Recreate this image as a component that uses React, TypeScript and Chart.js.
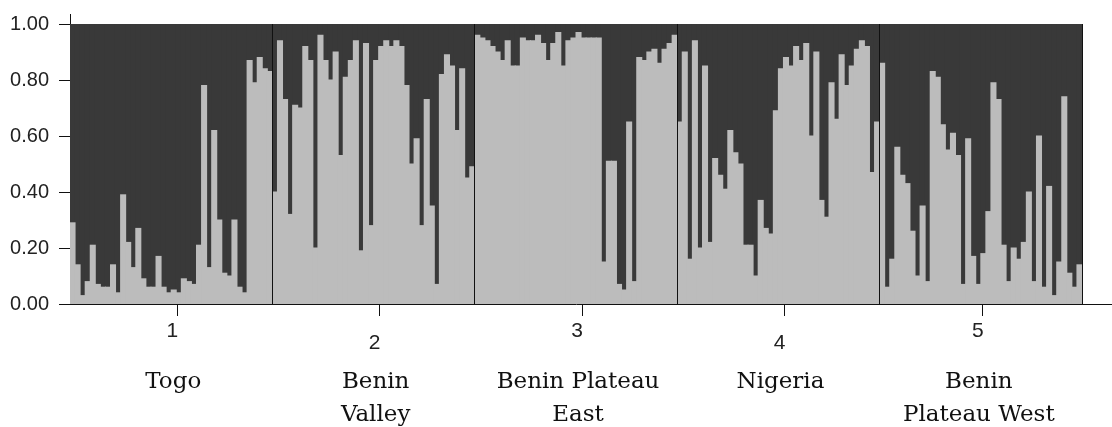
import React, { useEffect, useRef, useState } from 'react';
import { Chart, registerables } from 'chart.js';

Chart.register(...registerables);

// ---------------- data ----------------
const populationNames: string[][] = [
  ['Togo'],
  ['Benin', 'Valley'],
  ['Benin Plateau', 'East'],
  ['Nigeria'],
  ['Benin', 'Plateau West'],
];
const clusterLabels = ['1', '2', '3', '4', '5'];
const yTickValues = [0, 0.2, 0.4, 0.6, 0.8, 1.0];

// membership in the light-grey cluster, one value per individual
const togo = [
  0.29, 0.14, 0.03, 0.08, 0.21, 0.07, 0.06, 0.06, 0.14, 0.04,
  0.39, 0.22, 0.13, 0.27, 0.09, 0.06, 0.06, 0.17, 0.06, 0.04,
  0.05, 0.04, 0.09, 0.08, 0.07, 0.21, 0.78, 0.13, 0.62, 0.30,
  0.11, 0.10, 0.30, 0.06, 0.04, 0.87, 0.79, 0.88, 0.84, 0.83,
];
const beninValley = [
  0.40, 0.94, 0.73, 0.32, 0.71, 0.70, 0.92, 0.87, 0.20, 0.96,
  0.87, 0.80, 0.90, 0.53, 0.81, 0.87, 0.94, 0.19, 0.93, 0.28,
  0.87, 0.92, 0.94, 0.92, 0.94, 0.92, 0.78, 0.50, 0.59, 0.28,
  0.73, 0.35, 0.07, 0.82, 0.89, 0.85, 0.62, 0.84, 0.45, 0.49,
];
const beninPlateauEast = [
  0.96, 0.95, 0.94, 0.92, 0.90, 0.87, 0.94, 0.85, 0.85, 0.95,
  0.94, 0.94, 0.96, 0.93, 0.87, 0.93, 0.97, 0.85, 0.94, 0.95,
  0.97, 0.95, 0.95, 0.95, 0.95, 0.15, 0.51, 0.51, 0.07, 0.05,
  0.65, 0.08, 0.88, 0.87, 0.90, 0.91, 0.86, 0.91, 0.93, 0.96,
];
const nigeria = [
  0.65, 0.90, 0.16, 0.94, 0.20, 0.85, 0.22, 0.52, 0.46, 0.41,
  0.62, 0.54, 0.50, 0.21, 0.21, 0.10, 0.37, 0.27, 0.25, 0.69,
  0.84, 0.88, 0.85, 0.92, 0.87, 0.93, 0.60, 0.90, 0.37, 0.31,
  0.79, 0.66, 0.89, 0.78, 0.85, 0.91, 0.94, 0.92, 0.47, 0.65,
];
const beninPlateauWest = [
  0.86, 0.06, 0.16, 0.56, 0.46, 0.43, 0.26, 0.10, 0.35, 0.08,
  0.83, 0.81, 0.64, 0.55, 0.61, 0.53, 0.07, 0.59, 0.17, 0.07,
  0.18, 0.33, 0.79, 0.73, 0.21, 0.08, 0.20, 0.16, 0.22, 0.40,
  0.08, 0.60, 0.06, 0.42, 0.03, 0.15, 0.74, 0.11, 0.06, 0.14,
];

const populations = [togo, beninValley, beninPlateauEast, nigeria, beninPlateauWest];
const lightCluster: number[] = populations.flat();
const darkCluster: number[] = lightCluster.map((v) => +(1 - v).toFixed(3));
const individuals: string[] = populations.flatMap((p, pi) => p.map((_, i) => `${pi + 1}-${i + 1}`));

// ---------------- layout ----------------
const W = 1112;
const H = 427;
const popTickPositions = [0.53, 1.53, 2.53, 3.53, 4.51];
const barClip = { left: 0, right: 0, bottom: 0, top: -10 };

const boundaryPlugin = {
  id: 'boundaries',
  afterDatasetsDraw(chart: any) {
    const { ctx, chartArea, scales } = chart;
    const x = scales.x;
    const y = scales.y;
    const perPop = togo.length;
    const yTop = y.getPixelForValue(1);
    ctx.save();
    ctx.strokeStyle = '#111';
    ctx.lineWidth = 1;
    for (let k = 1; k <= populations.length; k++) {
      const px = k === populations.length ? chartArea.right : x.getPixelForValue(k * perPop - 0.5);
      const ax = Math.round(px - 0.5) + 0.5;
      ctx.beginPath();
      ctx.moveTo(ax, yTop);
      ctx.lineTo(ax, chartArea.bottom);
      ctx.stroke();
    }
    ctx.restore();
  },
  afterDraw(chart: any) {
    const { ctx, chartArea, width } = chart;
    const ay = Math.round(chartArea.bottom - 0.5) + 0.5;
    ctx.save();
    ctx.strokeStyle = '#111';
    ctx.lineWidth = 1;
    ctx.beginPath();
    ctx.moveTo(chartArea.right - 1, ay);
    ctx.lineTo(width, ay);
    ctx.stroke();
    ctx.restore();
  },
};

export default function App() {
  const canvasRef = useRef<HTMLCanvasElement | null>(null);
  const [centers, setCenters] = useState<number[]>([]);

  useEffect(() => {
    if (!canvasRef.current) return;
    const chart = new Chart(canvasRef.current, {
      type: 'bar',
      data: {
        labels: individuals,
        datasets: [
          {
            label: 'Cluster 1',
            data: lightCluster,
            backgroundColor: '#bcbcbc',
            borderWidth: 0,
            barPercentage: 1,
            categoryPercentage: 1,
            inflateAmount: 0.5,
            clip: barClip,
            xAxisID: 'x',
            yAxisID: 'y',
          },
          {
            label: 'Cluster 2',
            data: darkCluster,
            backgroundColor: '#393939',
            borderWidth: 0,
            barPercentage: 1,
            categoryPercentage: 1,
            inflateAmount: 0.6,
            clip: barClip,
            xAxisID: 'x',
            yAxisID: 'y',
          },
        ],
      },
      options: {
        responsive: false,
        animation: false,
        devicePixelRatio: 1,
        layout: { padding: { top: 14, right: 30, left: 0, bottom: 0 } },
        plugins: { legend: { display: false }, tooltip: { enabled: false } },
        scales: {
          x: {
            type: 'category',
            stacked: true,
            display: false,
          },
          pop: {
            type: 'linear',
            position: 'bottom',
            min: 0,
            max: 5,
            offset: false,
            afterBuildTicks: (scale: any) => {
              scale.ticks = popTickPositions.map((v) => ({ value: v }));
            },
            afterFit: (scale: any) => {
              scale.height = H - 304;
              scale.paddingLeft = 0;
              scale.paddingRight = 0;
            },
            grid: {
              display: true,
              offset: false,
              drawOnChartArea: false,
              drawTicks: true,
              tickLength: 12,
              color: '#111',
              lineWidth: 1,
            },
            border: { display: true, color: '#111', width: 1 },
            ticks: {
              autoSkip: false,
              maxRotation: 0,
              padding: 9,
              labelOffset: -5,
              color: '#222',
              font: { family: "'Liberation Sans', Arial, sans-serif", size: 21, lineHeight: '12px' },
              callback: (_v: any, i: number) => (i % 2 === 1 ? ['', clusterLabels[i]] : clusterLabels[i]),
            },
          },
          y: {
            type: 'linear',
            stacked: true,
            min: 0,
            max: 290 / 280,
            afterBuildTicks: (scale: any) => {
              scale.ticks = yTickValues.map((v) => ({ value: v }));
            },
            afterFit: (scale: any) => {
              scale.width = 70;
              scale.paddingTop = 0;
              scale.paddingBottom = 0;
            },
            grid: {
              display: true,
              drawOnChartArea: false,
              tickLength: 11,
              color: '#111',
            },
            border: { display: true, color: '#111', width: 1 },
            ticks: {
              padding: 10,
              color: '#222',
              font: { family: "'Liberation Sans', Arial, sans-serif", size: 20 },
              callback: (v: any) => Number(v).toFixed(2),
            },
          },
        },
      },
      plugins: [boundaryPlugin],
    } as any);

    const pop = chart.scales.pop;
    setCenters(popTickPositions.map((v) => pop.getPixelForValue(v) - 4));

    return () => {
      chart.destroy();
    };
  }, []);

  return (
    <div
      style={{
        position: 'fixed',
        left: 0,
        top: 0,
        width: W,
        height: H,
        background: '#fff',
        overflow: 'hidden',
      }}
    >
      <canvas ref={canvasRef} width={W} height={H} style={{ display: 'block', width: W, height: H }} />
      {centers.map((cx, i) => (
        <div
          key={i}
          style={{
            position: 'absolute',
            left: cx - 130,
            width: 260,
            top: 364,
            textAlign: 'center',
            fontFamily: "'DejaVu Serif', serif",
            fontSize: 23,
            lineHeight: '33px',
            color: '#111',
            whiteSpace: 'nowrap',
          }}
        >
          {populationNames[i].map((line, j) => (
            <div key={j}>{line}</div>
          ))}
        </div>
      ))}
    </div>
  );
}
